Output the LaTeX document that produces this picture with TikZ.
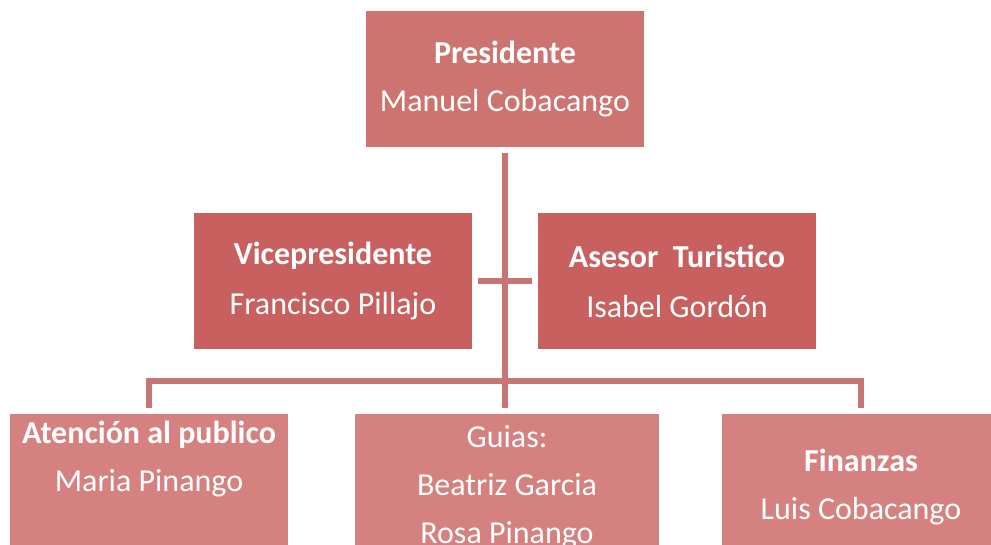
\documentclass[tikz,border=0pt]{standalone}
\usepackage{fontspec}
\setmainfont{Carlito}
\definecolor{topbox}{HTML}{CD7370}
\definecolor{midbox}{HTML}{C7605F}
\definecolor{lowbox}{HTML}{D48180}
\definecolor{linkred}{HTML}{C97474}

\begin{document}
\begin{tikzpicture}[x=1pt, y=-1pt,
    card/.style={anchor=north, inner sep=0pt, outer sep=0pt, minimum width=278pt,
      minimum height=136pt, align=center, text=white,
      font=\fontsize{32}{48}\selectfont},
    link/.style={draw=linkred, line width=6pt, line join=miter}]
  \useasboundingbox (0,0) rectangle (991,545);
  \clip (0,0) rectangle (991,545);

  % top and second level
  \node[card, fill=topbox] (pres) at (505,11) {\textbf{Presidente}\\Manuel Cobacango};
  \node[card, fill=midbox, font=\fontsize{32}{50}\selectfont] (vice) at (333,213)
    {\textbf{Vicepresidente}\\Francisco Pillajo};
  \node[card, fill=midbox, font=\fontsize{32}{50}\selectfont] (asesor) at (677,213)
    {\textbf{Asesor\ \ Turistico}\\Isabel Gordón};

  % departments
  \node[card, fill=lowbox, minimum height=146pt] (atencion) at (149,414)
    {\textbf{Atención al publico}\\Maria Pinango\\\strut};
  \node[card, fill=lowbox, minimum height=146pt, minimum width=304pt] (guias) at (507,414)
    {Guias:\\Beatriz Garcia\\Rosa Pinango};
  \node[card, fill=lowbox, minimum height=146pt] (finanzas) at (861,414)
    {\textbf{Finanzas}\\Luis Cobacango};

  \coordinate (bar) at (505,381);
  \draw[link, shorten <=6pt, shorten >=6pt] (pres.south) -- (pres.south |- guias.north);
  \draw[link, shorten <=6pt, shorten >=6pt] (vice.east) -- (asesor.west);
  \draw[link, shorten <=6pt, shorten >=6pt] (atencion.north) -- (atencion.north |- bar)
    -- (finanzas.north |- bar) -- (finanzas.north);
\end{tikzpicture}
\end{document}
